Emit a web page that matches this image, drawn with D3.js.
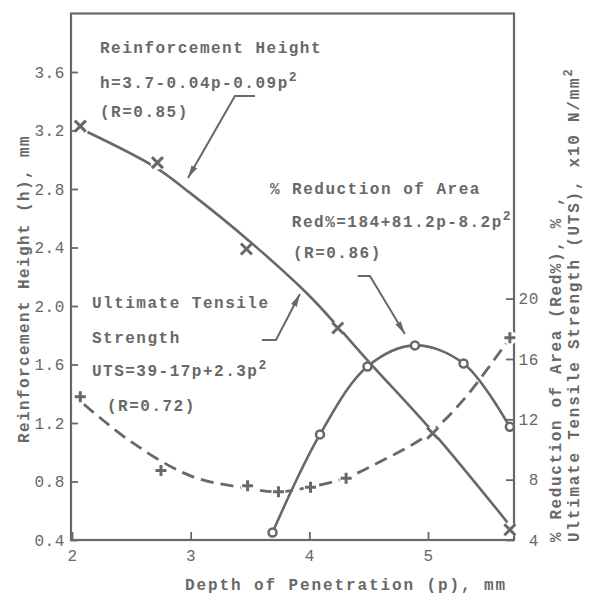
<!DOCTYPE html>
<html>
<head>
<meta charset="utf-8">
<script src="https://cdn.jsdelivr.net/npm/d3@7"></script>
<style>
  body { margin: 0; background: #fff; }
  svg { display: block; }
</style>
</head>
<body>
<div id="chart"></div>
<script>
// depth of penetration (p), mm -- tick labels
const xTicks = [2, 3, 4, 5];
const leftTicks = [0.4, 0.8, 1.2, 1.6, 2.0, 2.4, 2.8, 3.2, 3.6];
const rightTicks = [4, 8, 12, 16, 20];

// reinforcement height (x markers) and its fitted curve
const heightP = [2.07, 2.72, 3.47, 4.24, 5.04, 5.69];
const heightH = [3.23, 2.98, 2.39, 1.85, 1.13, 0.47];
const heightFitP = [2.13, 2.7, 3.0, 3.5, 4.0, 4.5, 5.04, 5.67];
const heightFitH = [3.19, 2.95, 2.77, 2.44, 2.07, 1.62, 1.14, 0.52];

// % reduction of area (o markers)
const redP = [3.69, 4.09, 4.49, 4.89, 5.3, 5.69];
const redPct = [4.5, 11.0, 15.5, 16.9, 15.7, 11.5];

// ultimate tensile strength (+ markers) and dashed fit
const utsP = [2.07, 2.75, 3.48, 3.74, 4.01, 4.31, 5.69];
const utsVal = [13.5, 8.6, 7.6, 7.2, 7.5, 8.1, 17.4];
const utsFitP = [2.1, 2.5, 3.0, 3.5, 3.75, 4.0, 4.3, 4.6, 5.0, 5.3, 5.69];
const utsFitVal = [13.0, 10.5, 8.25, 7.4, 7.2, 7.5, 8.1, 9.2, 11.0, 13.3, 17.4];

// annotation text (p, h of baseline start)
const notes = [
  { p: 2.236, h: 3.73, t: "Reinforcement Height" },
  { p: 2.236, h: 3.491, t: "h=3.7-0.04p-0.09p", sup: "2" },
  { p: 2.236, h: 3.292, t: "(R=0.85)" },
  { p: 3.668, h: 2.766, t: "% Reduction of Area" },
  { p: 3.853, h: 2.54, t: "Red%=184+81.2p-8.2p", sup: "2" },
  { p: 3.862, h: 2.328, t: "(R=0.86)" },
  { p: 2.168, h: 1.986, t: "Ultimate Tensile" },
  { p: 2.168, h: 1.747, t: "Strength" },
  { p: 2.168, h: 1.521, t: "UTS=39-17p+2.3p", sup: "2" },
  { p: 2.295, h: 1.282, t: "(R=0.72)" },
];

// leader arrows (p, h)
const arrows = [
  [[3.542, 3.436], [3.373, 3.436], [2.977, 2.875]],
  [[3.601, 1.768], [3.719, 1.768], [3.921, 2.082]],
  [[4.409, 2.205], [4.511, 2.205], [4.805, 1.809]],
];

const W = 589, H = 596;
const ink = "#686868";
const mono = "'Liberation Mono', 'DejaVu Sans Mono', monospace";

const x = d3.scaleLinear().domain([2, 5.725]).range([72, 514]);
const y = d3.scaleLinear().domain([0.4, 4.0]).range([540, 13.5]);
const yR = d3.scaleLinear().domain([4, 38.9]).range([540, 13.5]);

const svg = d3.select("#chart").append("svg")
  .attr("width", W).attr("height", H)
  .style("background", "#fff");

svg.append("defs").append("marker")
  .attr("id", "head")
  .attr("markerUnits", "userSpaceOnUse")
  .attr("viewBox", "0 -4 13 8")
  .attr("refX", 13).attr("refY", 0)
  .attr("markerWidth", 13).attr("markerHeight", 8)
  .attr("orient", "auto")
  .append("path")
  .attr("d", "M0,-3.2L13,0L0,3.2Z")
  .attr("fill", ink);

// frame
svg.append("rect")
  .attr("x", x.range()[0] - 1).attr("y", y.range()[1])
  .attr("width", x.range()[1] - x.range()[0] + 1)
  .attr("height", y.range()[0] - y.range()[1])
  .attr("fill", "none").attr("stroke", ink).attr("stroke-width", 2.2);

// axes
const styleAxis = (g) => {
  g.select(".domain").remove();
  g.selectAll(".tick line").attr("stroke", ink).attr("stroke-width", 1.8);
  g.selectAll("text")
    .attr("fill", ink)
    .attr("font-family", mono)
    .attr("font-size", 16)
    .attr("letter-spacing", 0.6);
};

svg.append("g")
  .attr("transform", `translate(${x.range()[0] - 1},0)`)
  .call(d3.axisLeft(y).tickValues(leftTicks).tickFormat(d3.format(".1f"))
    .tickSize(-7).tickPadding(6))
  .call(styleAxis);

svg.append("g")
  .attr("transform", `translate(${x.range()[1]},0)`)
  .call(d3.axisRight(yR).tickValues(rightTicks).tickFormat(d3.format("d"))
    .tickSize(-8).tickPadding(4))
  .call(styleAxis)
  .call((g) => g.selectAll("text").attr("text-anchor", "end").attr("x", 25));

svg.append("g")
  .attr("transform", `translate(0,${y.range()[0]})`)
  .call(d3.axisBottom(x).tickValues(xTicks).tickFormat(d3.format("d"))
    .tickSize(-8).tickPadding(10))
  .call(styleAxis);

// axis titles
const title = (sel) => sel
  .attr("fill", ink)
  .attr("font-family", mono)
  .attr("font-weight", "bold")
  .attr("font-size", 16);

svg.append("text").call(title)
  .attr("x", 185).attr("y", 590)
  .attr("letter-spacing", 1.9)
  .text("Depth of Penetration (p), mm");

svg.append("text").call(title)
  .attr("transform", "translate(29,289) rotate(-90)")
  .attr("text-anchor", "middle")
  .attr("letter-spacing", 1.4)
  .text("Reinforcement Height (h), mm");

svg.append("text").call(title)
  .attr("transform", "translate(561,542) rotate(-90)")
  .attr("letter-spacing", 1.6)
  .text("% Reduction of Area (Red%), % ,");

const t2 = svg.append("text").call(title)
  .attr("transform", "translate(579,542) rotate(-90)")
  .attr("letter-spacing", 1.75);
t2.append("tspan").text("Ultimate Tensile Strength (UTS), x10 N/mm");
t2.append("tspan").attr("font-size", 12).attr("dy", -7).text("2");

// curves
const lineH = d3.line().curve(d3.curveCatmullRom)
  .x((d) => x(d[0])).y((d) => y(d[1]));
const lineR = d3.line().curve(d3.curveCatmullRom)
  .x((d) => x(d[0])).y((d) => yR(d[1]));

svg.append("path")
  .datum(d3.zip(heightFitP, heightFitH))
  .attr("d", lineH)
  .attr("fill", "none").attr("stroke", ink).attr("stroke-width", 2.6);

svg.append("path")
  .datum(d3.zip(redP, redPct))
  .attr("d", lineR)
  .attr("fill", "none").attr("stroke", ink).attr("stroke-width", 2.6);

svg.append("path")
  .datum(d3.zip(utsFitP, utsFitVal))
  .attr("d", lineR)
  .attr("fill", "none").attr("stroke", ink).attr("stroke-width", 2.8)
  .attr("stroke-dasharray", "13,7");

// white gaps around markers
const hPts = d3.zip(heightP, heightH).map((d) => [x(d[0]), y(d[1])]);
const rPts = d3.zip(redP, redPct).map((d) => [x(d[0]), yR(d[1])]);
const uPts = d3.zip(utsP, utsVal).map((d) => [x(d[0]), yR(d[1])]);

svg.append("g").selectAll("circle")
  .data(hPts.concat(uPts))
  .join("circle")
  .attr("cx", (d) => d[0]).attr("cy", (d) => d[1])
  .attr("r", 7).attr("fill", "#fff");

const s = 5.5;
svg.append("g").selectAll("path")
  .data(hPts)
  .join("path")
  .attr("transform", (d) => `translate(${d[0]},${d[1]})`)
  .attr("d", `M${-s},${-s}L${s},${s}M${-s},${s}L${s},${-s}`)
  .attr("stroke", ink).attr("stroke-width", 3).attr("fill", "none");

svg.append("g").selectAll("path")
  .data(uPts)
  .join("path")
  .attr("transform", (d) => `translate(${d[0]},${d[1]})`)
  .attr("d", `M${-s},0L${s},0M0,${-s}L0,${s}`)
  .attr("stroke", ink).attr("stroke-width", 3).attr("fill", "none");

svg.append("g").selectAll("circle")
  .data(rPts)
  .join("circle")
  .attr("cx", (d) => d[0]).attr("cy", (d) => d[1])
  .attr("r", 4).attr("fill", "#fff")
  .attr("stroke", ink).attr("stroke-width", 2.5);

// annotation leaders
svg.append("g").selectAll("path")
  .data(arrows)
  .join("path")
  .attr("d", d3.line().x((d) => x(d[0])).y((d) => y(d[1])))
  .attr("fill", "none").attr("stroke", ink).attr("stroke-width", 2)
  .attr("marker-end", "url(#head)");

// annotation text
const nt = svg.append("g").selectAll("text")
  .data(notes)
  .join("text")
  .call(title)
  .attr("x", (d) => x(d.p)).attr("y", (d) => y(d.h))
  .attr("letter-spacing", 1.5);
nt.append("tspan").text((d) => d.t);
nt.filter((d) => d.sup).append("tspan")
  .attr("font-size", 13).attr("dy", -7).text((d) => d.sup);
</script>
</body>
</html>
